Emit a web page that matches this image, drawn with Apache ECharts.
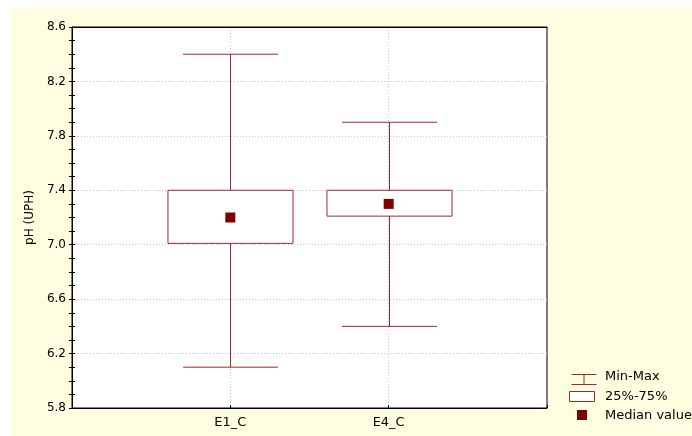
<!DOCTYPE html>
<html>
<head>
<meta charset="utf-8">
<script src="https://cdn.jsdelivr.net/npm/echarts@6/dist/echarts.min.js"></script>
<style>
  html, body { margin: 0; padding: 0; background: #ffffff; }
  #frame { position: absolute; left: 10px; top: 7px; width: 682px; height: 429px; background: #fffee0; }
  #chart { position: absolute; left: 0; top: 0; width: 692px; height: 436px; }
</style>
</head>
<body>
<div id="frame"></div>
<div id="chart"></div>
<script>
// pH (UPH) by sampling point: min, quartiles, median, max
const categories = ['E1_C', 'E4_C'];
const minValues = [6.1, 6.4];
const q1Values = [7.01, 7.21];
const medianValues = [7.2, 7.3];
const q3Values = [7.4, 7.4];
const maxValues = [8.4, 7.9];
const yTicks = [5.8, 6.2, 6.6, 7.0, 7.4, 7.8, 8.2, 8.6];

const lineColor = '#a0282c';
const medianColor = '#800000';
const font = 'DejaVu Sans';

const boxData = categories.map((c, i) => [i + 1, minValues[i], q1Values[i], q3Values[i], maxValues[i]]);
const medianData = categories.map((c, i) => [i + 1, medianValues[i]]);

function renderBox(params, api) {
  const x = api.value(0);
  const pMin = api.coord([x, api.value(1)]);
  const pQ1 = api.coord([x, api.value(2)]);
  const pQ3 = api.coord([x, api.value(3)]);
  const pMax = api.coord([x, api.value(4)]);
  const boxW = api.size([0.79, 0])[0];
  const capW = api.size([0.6, 0])[0];
  const cx = Math.round(pMin[0]) + 0.5;
  const st = { stroke: lineColor, lineWidth: 1, fill: null };
  return {
    type: 'group',
    children: [
      { type: 'line', shape: { x1: cx, y1: pMax[1], x2: cx, y2: pMin[1] }, style: st },
      { type: 'line', shape: { x1: cx - capW / 2, y1: pMax[1], x2: cx + capW / 2, y2: pMax[1] }, style: st },
      { type: 'line', shape: { x1: cx - capW / 2, y1: pMin[1], x2: cx + capW / 2, y2: pMin[1] }, style: st },
      { type: 'rect', shape: { x: cx - boxW / 2, y: pQ3[1], width: boxW, height: pQ1[1] - pQ3[1] },
        style: { stroke: lineColor, lineWidth: 1, fill: '#ffffff' } }
    ]
  };
}

const chart = echarts.init(document.getElementById('chart'), null, { renderer: 'canvas' });

const legendText = { fontFamily: font, fontSize: 13, fill: '#000', verticalAlign: 'middle' };

chart.setOption({
  backgroundColor: 'transparent',
  animation: false,
  grid: { left: 72, top: 27, right: 145, bottom: 28, show: true, backgroundColor: '#ffffff', borderColor: '#000', borderWidth: 1 },
  xAxis: [{
    type: 'value', min: 0, max: 3, interval: 1,
    axisLine: { show: true, lineStyle: { color: '#000' } },
    axisTick: { show: true, inside: true, length: 3, lineStyle: { color: '#000' } },
    axisLabel: {
      margin: 8, fontFamily: font, fontSize: 13, color: '#000',
      formatter: v => categories[v - 1] || ''
    },
    splitLine: { show: true, showMinLine: false, showMaxLine: false, lineStyle: { color: '#c4c4c4', type: [1, 2] } }
  }, {
    type: 'value', min: 0, max: 3, position: 'top',
    axisLine: { show: true, lineStyle: { color: '#000' } },
    axisTick: { show: false }, axisLabel: { show: false }, splitLine: { show: false }
  }],
  yAxis: [{
    type: 'value', min: yTicks[0], max: yTicks[yTicks.length - 1], interval: 0.4,
    name: 'pH (UPH)', nameLocation: 'middle', nameGap: 36,
    nameTextStyle: { fontFamily: font, fontSize: 12, color: '#000' },
    axisLine: { show: true, lineStyle: { color: '#000' } },
    axisTick: { show: true, inside: true, length: 3, lineStyle: { color: '#000' } },
    minorTick: { show: true, splitNumber: 4, length: 3, lineStyle: { color: '#000' } },
    axisLabel: { margin: 6, fontFamily: font, fontSize: 12, color: '#000', formatter: v => v.toFixed(1) },
    splitLine: { show: true, showMinLine: false, showMaxLine: false, lineStyle: { color: '#c4c4c4', type: [1, 2] } }
  }, {
    type: 'value', position: 'right', min: yTicks[0], max: yTicks[yTicks.length - 1], interval: 0.4,
    axisLine: { show: true, lineStyle: { color: '#000' } },
    axisTick: { show: true, inside: true, length: 3, lineStyle: { color: '#000' } },
    minorTick: { show: true, splitNumber: 4, length: 3, lineStyle: { color: '#000' } },
    axisLabel: { show: false }, splitLine: { show: false }
  }],
  series: [{
    name: 'Min-Max / 25%-75%',
    type: 'custom',
    renderItem: renderBox,
    encode: { x: 0, y: [1, 2, 3, 4] },
    data: boxData,
    z: 3
  }, {
    name: 'Median value',
    type: 'scatter',
    symbol: 'rect',
    symbolSize: 10,
    itemStyle: { color: medianColor, opacity: 1 },
    data: medianData,
    z: 4
  }],
  graphic: [
    // legend: Min-Max whisker glyph
    { type: 'group', left: 569, top: 372, children: [
      { type: 'line', shape: { x1: 0, y1: 0.5, x2: 25, y2: 0.5 }, style: { stroke: lineColor, lineWidth: 1 } },
      { type: 'line', shape: { x1: 12.5, y1: 0.5, x2: 12.5, y2: 10.5 }, style: { stroke: lineColor, lineWidth: 1 } },
      { type: 'line', shape: { x1: 0, y1: 10.5, x2: 25, y2: 10.5 }, style: { stroke: lineColor, lineWidth: 1 } }
    ] },
    { type: 'text', left: 605, top: 370, style: Object.assign({ text: 'Min-Max' }, legendText) },
    // legend: interquartile box
    { type: 'rect', left: 569, top: 391, shape: { x: 0, y: 0, width: 25, height: 10 },
      style: { fill: '#ffffff', stroke: lineColor, lineWidth: 1 } },
    { type: 'text', left: 605, top: 390, style: Object.assign({ text: '25%-75%' }, legendText) },
    // legend: median marker
    { type: 'rect', left: 577, top: 410, shape: { x: 0, y: 0, width: 10, height: 10 },
      style: { fill: medianColor } },
    { type: 'text', left: 605, top: 409, style: Object.assign({ text: 'Median value' }, legendText) }
  ]
});
</script>
</body>
</html>
